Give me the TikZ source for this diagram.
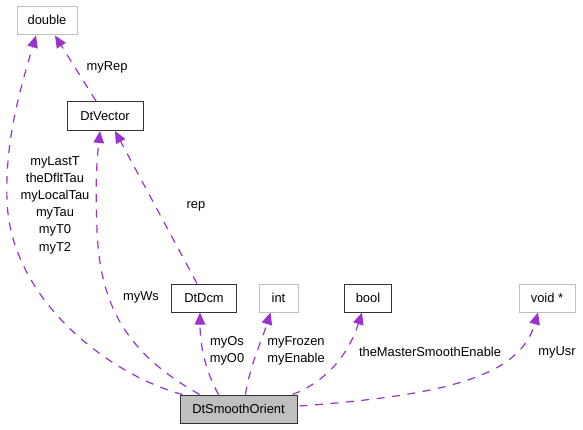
\documentclass[tikz,border=0pt]{standalone}
\usepackage{fontspec}
\setmainfont{Liberation Sans}
\usetikzlibrary{arrows.meta,calc}
\definecolor{edgec}{HTML}{9A32CD}
\definecolor{grayb}{HTML}{BFBFBF}
\tikzset{
  cls/.style={draw=black!80, line width=1pt, fill=white, inner sep=0pt, minimum height=28pt, font=\fontsize{12.9pt}{17pt}\selectfont},
  ext/.style={cls, draw=grayb},
  main/.style={cls, fill=grayb},
  edge/.style={draw=edgec, line width=1.2pt, dash pattern=on 8pt off 7.5pt, -{Triangle[length=12pt,width=10.5pt,fill=edgec]}},
  lbl/.style={inner sep=0pt, align=center, font=\fontsize{12.9pt}{17.2pt}\selectfont}
}
\begin{document}
\begin{tikzpicture}[x=1pt,y=-1pt]
\useasboundingbox (0,0) rectangle (583,429);
\node[ext, minimum width=60pt] (double) at (47,20) {double};
\node[cls, minimum width=76pt, minimum height=29pt] (vec) at (105,116) {DtVector};
\node[cls, minimum width=65pt] (dcm) at (204,298) {DtDcm};
\node[ext, minimum width=39pt] (int) at (278.5,298) {int};
\node[cls, minimum width=47pt] (bool) at (368,298) {bool};
\node[ext, minimum width=56pt] (void) at (547,298) {void *};
\node[main, minimum width=117pt] (so) at (238.5,409) {DtSmoothOrient};

% so -> double
\draw[edge] ($(so.north west)+(3,0)$) .. controls (110,375) and (10,300) .. (7,200)
  .. controls (5,140) and (20,90) .. ($(double.south)+(-11,1)$);
% so -> DtVector
\draw[edge] ($(so.north)+(-39,0)$) .. controls (130,355) and (100,310) .. (97,230)
  .. controls (95,180) and (97,160) .. ($(vec.south)+(-5,0)$);
% DtVector -> double
\draw[edge] ($(vec.north)+(-9,0)$) -- ($(double.south)+(8,1)$);
% DtDcm -> DtVector
\draw[edge] ($(dcm.north)+(-7,0)$) -- ($(vec.south)+(10,0)$);
% so -> DtDcm
\draw[edge] ($(so.north)+(-20,0)$) .. controls (205,370) and (200,345) .. ($(dcm.south)+(-4,0)$);
% so -> int
\draw[edge] ($(so.north)+(7,0)$) .. controls (250,365) and (262,340) .. ($(int.south)+(-8,0)$);
% so -> bool
\draw[edge] ($(so.north east)+(-5,0)$) .. controls (330,380) and (350,350) .. ($(bool.south)+(-6,0)$);
% so -> void
\draw[edge] ($(so.east)+(2,-3)$) .. controls (450,395) and (520,375) .. ($(void.south)+(-9,0)$);

\node[lbl] (lrep) at (107,67) {myRep};
\node[lbl] (ldbl) at (55,205) {myLastT\\theDfltTau\\myLocalTau\\myTau\\myT0\\myT2};
\node[lbl] (lrep2) at (196,206) {rep};
\node[lbl] (lws) at (141,297) {myWs};
\node[lbl] (los) at (227,351) {myOs\\myO0};
\node[lbl] (lfr) at (296,351) {myFrozen\\myEnable};
\node[lbl] (lme) at (430,352) {theMasterSmoothEnable};
\node[lbl] (lusr) at (557,352) {myUsr};
\end{tikzpicture}
\end{document}
